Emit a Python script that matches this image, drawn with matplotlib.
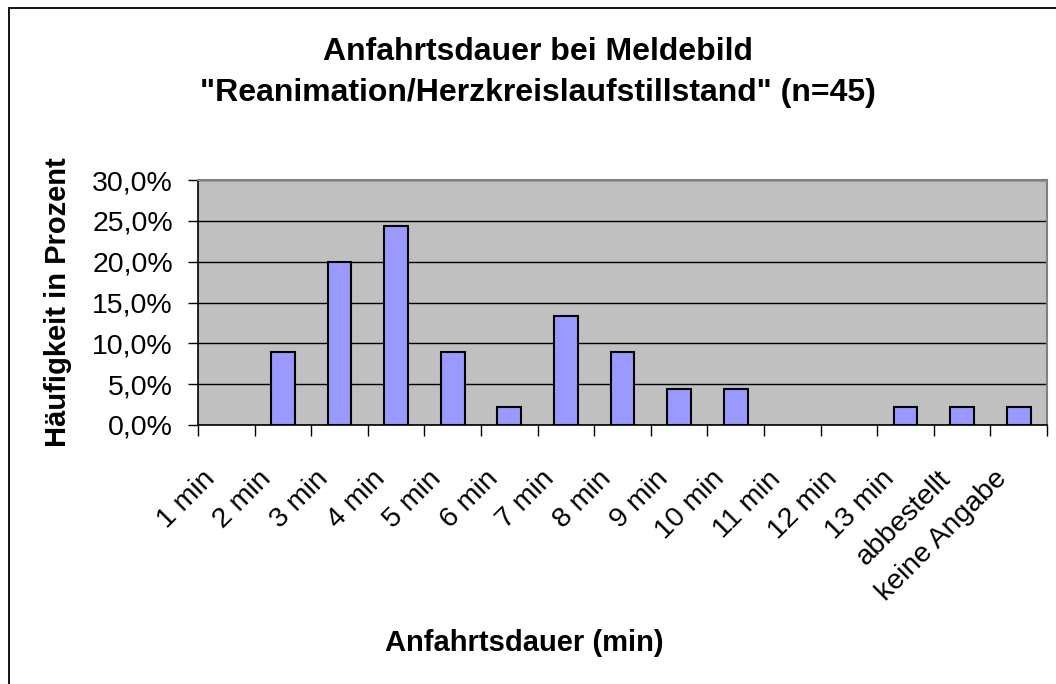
import numpy as np
import matplotlib
matplotlib.use('Agg')
import matplotlib.pyplot as plt
import matplotlib.patches as mpatches
import matplotlib as mpl

mpl.rcParams['font.family'] = ['Liberation Sans', 'DejaVu Sans']

categories = ['1 min', '2 min', '3 min', '4 min', '5 min', '6 min', '7 min', '8 min',
              '9 min', '10 min', '11 min', '12 min', '13 min', 'abbestellt', 'keine Angabe']
percent = [0.0, 8.9, 20.0, 24.4, 8.9, 2.2, 13.3, 8.9, 4.4, 4.4, 0.0, 0.0, 2.2, 2.2, 2.2]
yticks = [0, 5, 10, 15, 20, 25, 30]

W, H = 1056, 684
fig = plt.figure(figsize=(W / 100, H / 100), dpi=100)
ax = fig.add_axes([198 / W, 1 - 425 / H, (1047 - 198) / W, (425 - 180) / H])

x = np.arange(len(categories))
ax.bar(x, percent, width=0.42, color='#9999FF', edgecolor='black',
       linewidth=[1.5 if v > 0 else 0 for v in percent], zorder=3)

ax.set_facecolor('#C0C0C0')
ax.set_xlim(-0.5, len(categories) - 0.5)
ax.set_ylim(0, 30)
ax.set_yticks(yticks)
ax.set_yticklabels([f'{v:.1f}%'.replace('.', ',') for v in yticks], fontsize=20.5)
ax.yaxis.grid(True, color='black', linewidth=1.0, zorder=1)
ax.set_axisbelow(True)

# labels sit a bit left of the category centre (ticks are hidden, so shift the label slots)
ax.set_xticks(x - 0.27)
ax.set_xticklabels(categories, rotation=45, ha='right', va='center',
                   rotation_mode='anchor', fontsize=20.5)
ax.set_xticks(np.arange(len(categories) + 1) - 0.5, minor=True)
ax.tick_params(axis='x', which='major', length=0, pad=36)
ax.tick_params(axis='x', which='minor', length=8, width=1, color='black', direction='out')
ax.tick_params(axis='y', length=7, width=1, color='black', direction='out', pad=11)

for side in ['top', 'right']:
    ax.spines[side].set_color('#808080')
    ax.spines[side].set_linewidth(1.5)
for side in ['left', 'bottom']:
    ax.spines[side].set_color('black')
    ax.spines[side].set_linewidth(1.2)

fig.text(538 / W, 1 - 52 / H, 'Anfahrtsdauer bei Meldebild', ha='center', va='center',
         fontsize=23, fontweight='bold')
fig.text(538 / W, 1 - 93 / H, '"Reanimation/Herzkreislaufstillstand" (n=45)', ha='center',
         va='center', fontsize=23, fontweight='bold')
fig.text(58 / W, 1 - 302 / H, 'Häufigkeit in Prozent', rotation=90, ha='center', va='center',
         fontsize=21, fontweight='bold')
fig.text(524 / W, 1 - 643 / H, 'Anfahrtsdauer (min)', ha='center', va='center',
         fontsize=21, fontweight='bold')

frame = mpatches.Rectangle((9 / W, -0.1), 1.2, (1 - 8 / H) + 0.1, transform=fig.transFigure,
                           fill=False, edgecolor='black', linewidth=1.3, clip_on=False)
fig.patches.append(frame)

fig.savefig('out.png', dpi=100)
